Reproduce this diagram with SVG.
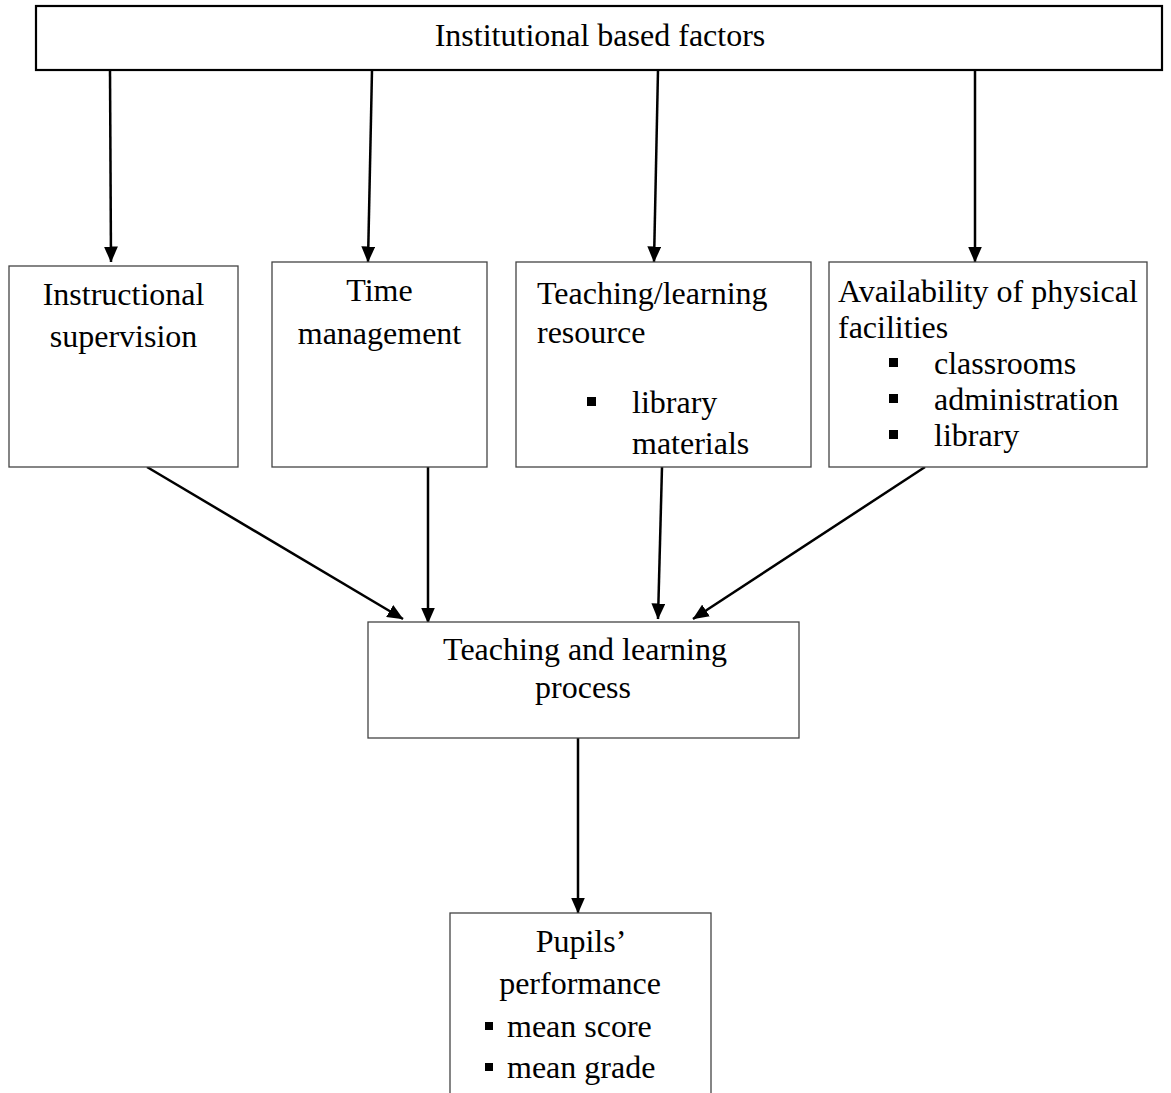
<svg xmlns="http://www.w3.org/2000/svg" width="1171" height="1093" viewBox="0 0 1171 1093">
<style>
.bx{fill:#fff;stroke:#444;stroke-width:1.3}
.top{fill:#fff;stroke:#000;stroke-width:2.2}
text{font-family:"Liberation Serif","Times New Roman",serif;font-size:32px;fill:#000}
.c{text-anchor:middle}
.ln{stroke:#000;stroke-width:2.5;fill:none;marker-end:url(#ah)}
.bul{fill:#000}
</style>
<defs>
<marker id="ah" viewBox="0 0 16 14" refX="15.5" refY="7" markerWidth="16" markerHeight="14" markerUnits="userSpaceOnUse" orient="auto">
<path d="M0,0 L16,7 L0,14 Z" fill="#000"/>
</marker>
</defs>
<rect width="1171" height="1093" fill="#fff"/>
<g id="connectors">
<line class="ln" x1="110" y1="70" x2="111" y2="262"/>
<line class="ln" x1="372" y1="70" x2="368" y2="262"/>
<line class="ln" x1="658" y1="70" x2="654" y2="262"/>
<line class="ln" x1="975" y1="70" x2="975" y2="262"/>
<line class="ln" x1="147" y1="467" x2="403" y2="619"/>
<line class="ln" x1="428" y1="467" x2="428" y2="623"/>
<line class="ln" x1="662" y1="467" x2="658" y2="619"/>
<line class="ln" x1="925" y1="467" x2="693" y2="619"/>
<line class="ln" x1="578" y1="738" x2="578" y2="913"/>
</g>
<g id="institutional">
<rect class="top" x="36" y="6" width="1126" height="64"/>
<text class="c" x="600" y="46">Institutional based factors</text>
</g>
<g id="supervision">
<rect class="bx" x="9" y="266" width="229" height="201"/>
<text class="c" x="123.5" y="305">Instructional</text>
<text class="c" x="123.5" y="347">supervision</text>
</g>
<g id="time">
<rect class="bx" x="272" y="262" width="215" height="205"/>
<text class="c" x="379.5" y="301">Time</text>
<text class="c" x="379.5" y="344">management</text>
</g>
<g id="resource">
<rect class="bx" x="516" y="262" width="295" height="205"/>
<text x="537" y="304">Teaching/learning</text>
<text x="537" y="343">resource</text>
<rect class="bul" x="587" y="397" width="9" height="9"/>
<text x="632" y="413">library</text>
<text x="632" y="454">materials</text>
</g>
<g id="facilities">
<rect class="bx" x="829" y="262" width="318" height="205"/>
<text x="838" y="302">Availability of physical</text>
<text x="838" y="338">facilities</text>
<rect class="bul" x="889" y="358" width="9" height="9"/>
<text x="934" y="374">classrooms</text>
<rect class="bul" x="889" y="394" width="9" height="9"/>
<text x="934" y="410">administration</text>
<rect class="bul" x="889" y="430" width="9" height="9"/>
<text x="934" y="446">library</text>
</g>
<g id="process">
<rect class="bx" x="368" y="622" width="431" height="116"/>
<text class="c" x="585" y="660">Teaching and learning</text>
<text class="c" x="583" y="698">process</text>
</g>
<g id="performance">
<rect class="bx" x="450" y="913" width="261" height="200"/>
<text class="c" x="581" y="952">Pupils’</text>
<text class="c" x="580" y="994">performance</text>
<rect class="bul" x="485" y="1022" width="8" height="8"/>
<text x="507" y="1037">mean score</text>
<rect class="bul" x="485" y="1063" width="8" height="8"/>
<text x="507" y="1078">mean grade</text>
</g>
</svg>
